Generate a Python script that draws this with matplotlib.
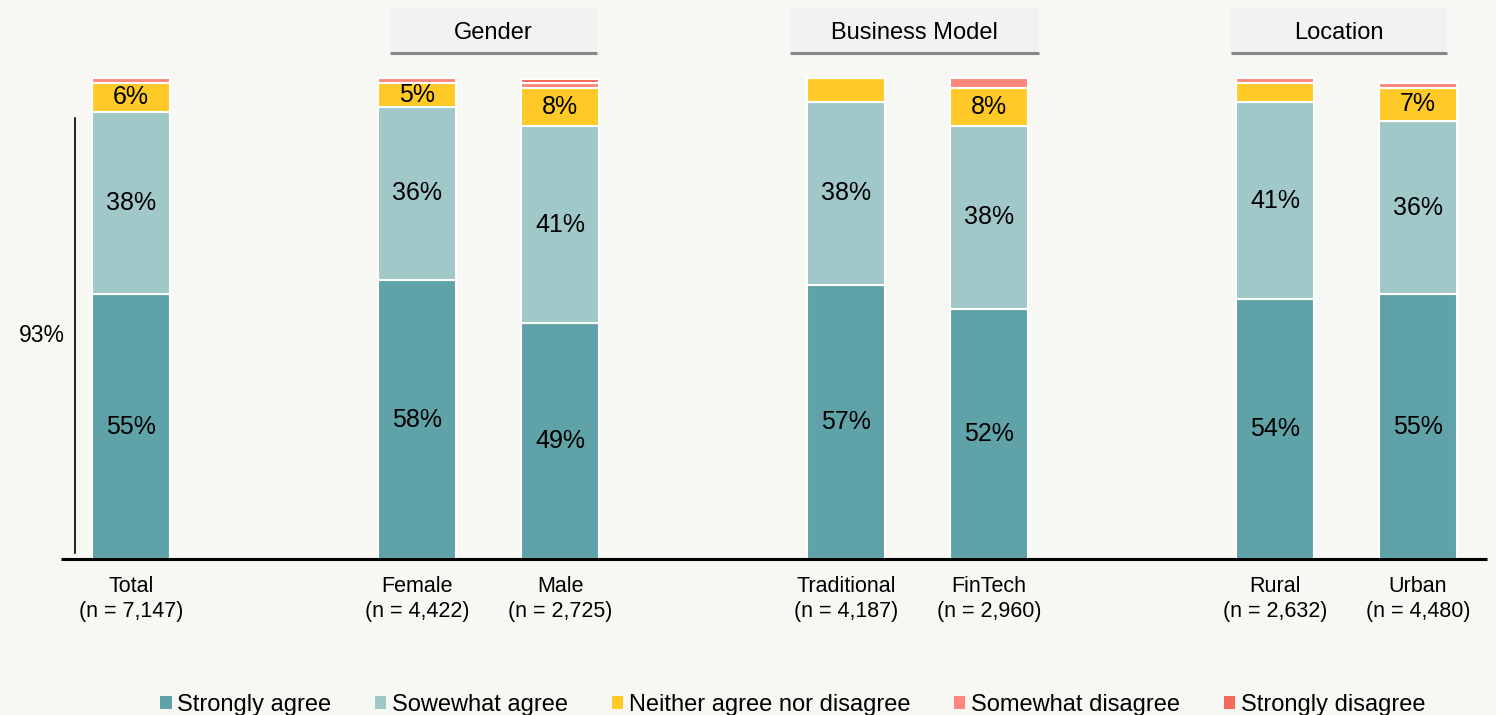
import matplotlib
matplotlib.use("Agg")
import matplotlib.pyplot as plt
from matplotlib.patches import Rectangle, Patch

plt.rcParams['font.family'] = ['Liberation Sans', 'DejaVu Sans']

# survey shares (%) per segment
categories = ["Total", "Female", "Male", "Traditional", "FinTech", "Rural", "Urban"]
sample_n = ["7,147", "4,422", "2,725", "4,187", "2,960", "2,632", "4,480"]
positions = [0, 2, 3, 5, 6, 8, 9]

strongly_agree = [55, 58, 49, 57, 52, 54, 55]
somewhat_agree = [38, 36, 41, 38, 38, 41, 36]
neither = [6, 5, 8, 5, 8, 4, 7]
somewhat_disagree = [1, 1, 1, 0, 2, 1, 1]
strongly_disagree = [0, 0, 0.7, 0, 0, 0, 0]
show_neither = [True, True, True, False, True, False, True]

series_names = ["Strongly agree", "Sowewhat agree", "Neither agree nor disagree",
                "Somewhat disagree", "Strongly disagree"]
colors = ["#5fa3a8", "#a1c8c9", "#ffc928", "#ff867a", "#f36a5c"]

groups = ["Gender", "Business Model", "Location"]
group_spans = [(1.81, 3.26), (4.61, 6.35), (7.69, 9.20)]

total_top2 = strongly_agree[0] + somewhat_agree[0]

bg = "#f7f7f3"
fig = plt.figure(figsize=(14.96, 7.15), dpi=100)
fig.patch.set_facecolor(bg)
ax = fig.add_axes([0, 156 / 715, 1, 559 / 715])
ax.set_facecolor(bg)
ax.set_xlim(-0.916, 9.545)
ax.set_ylim(0, 559 / 4.81)
ax.axis("off")

width = 0.54
series = [strongly_agree, somewhat_agree, neither, somewhat_disagree, strongly_disagree]
bottoms = [0] * len(categories)
for vals, col in zip(series, colors):
    ax.bar(positions, vals, width, bottom=bottoms, color=col,
           edgecolor="white", linewidth=1.5)
    bottoms = [b + v for b, v in zip(bottoms, vals)]

# value labels inside the segments
for i, x in enumerate(positions):
    sa, swa, ne = strongly_agree[i], somewhat_agree[i], neither[i]
    ax.text(x, sa / 2, f"{sa}%", ha="center", va="center", fontsize=18)
    ax.text(x, sa + swa / 2, f"{swa}%", ha="center", va="center", fontsize=18)
    if show_neither[i]:
        ax.text(x, sa + swa + ne / 2, f"{ne}%", ha="center", va="center", fontsize=18)
    ax.text(x, -3.6, f"{categories[i]}\n(n = {sample_n[i]})", ha="center", va="top",
            fontsize=15.5, linespacing=1.25)

# baseline
ax.plot([-0.49, 9.48], [0, 0], color="black", linewidth=2.2, clip_on=False,
        solid_capstyle="butt")

# bracket for total agreement
ax.plot([-0.392, -0.392], [1.2, 91.7], color="black", linewidth=1.2)
ax.text(-0.622, total_top2 / 2, f"{total_top2}%", ha="center", va="center", fontsize=16.5)

# group headers
for name, (x0, x1) in zip(groups, group_spans):
    ax.add_patch(Rectangle((x0, 105.3), x1 - x0, 9.5, facecolor="#f2f2f2",
                           edgecolor="none", clip_on=False))
    ax.plot([x0, x1], [105.1, 105.1], color="#888888", linewidth=2.2,
            solid_capstyle="butt", clip_on=False)
    ax.text((x0 + x1) / 2, 109.4, name, ha="center", va="center", fontsize=17)

handles = [Patch(facecolor=c, edgecolor="none") for c in colors]
fig.legend(handles, series_names, loc="center", bbox_to_anchor=(0.530, 0.0135),
           ncol=5, frameon=False, fontsize=17, handlelength=0.47, handleheight=0.47,
           handletextpad=0.25, columnspacing=1.85, borderaxespad=0, borderpad=0)

fig.savefig("out.png", dpi=100, facecolor=bg)
